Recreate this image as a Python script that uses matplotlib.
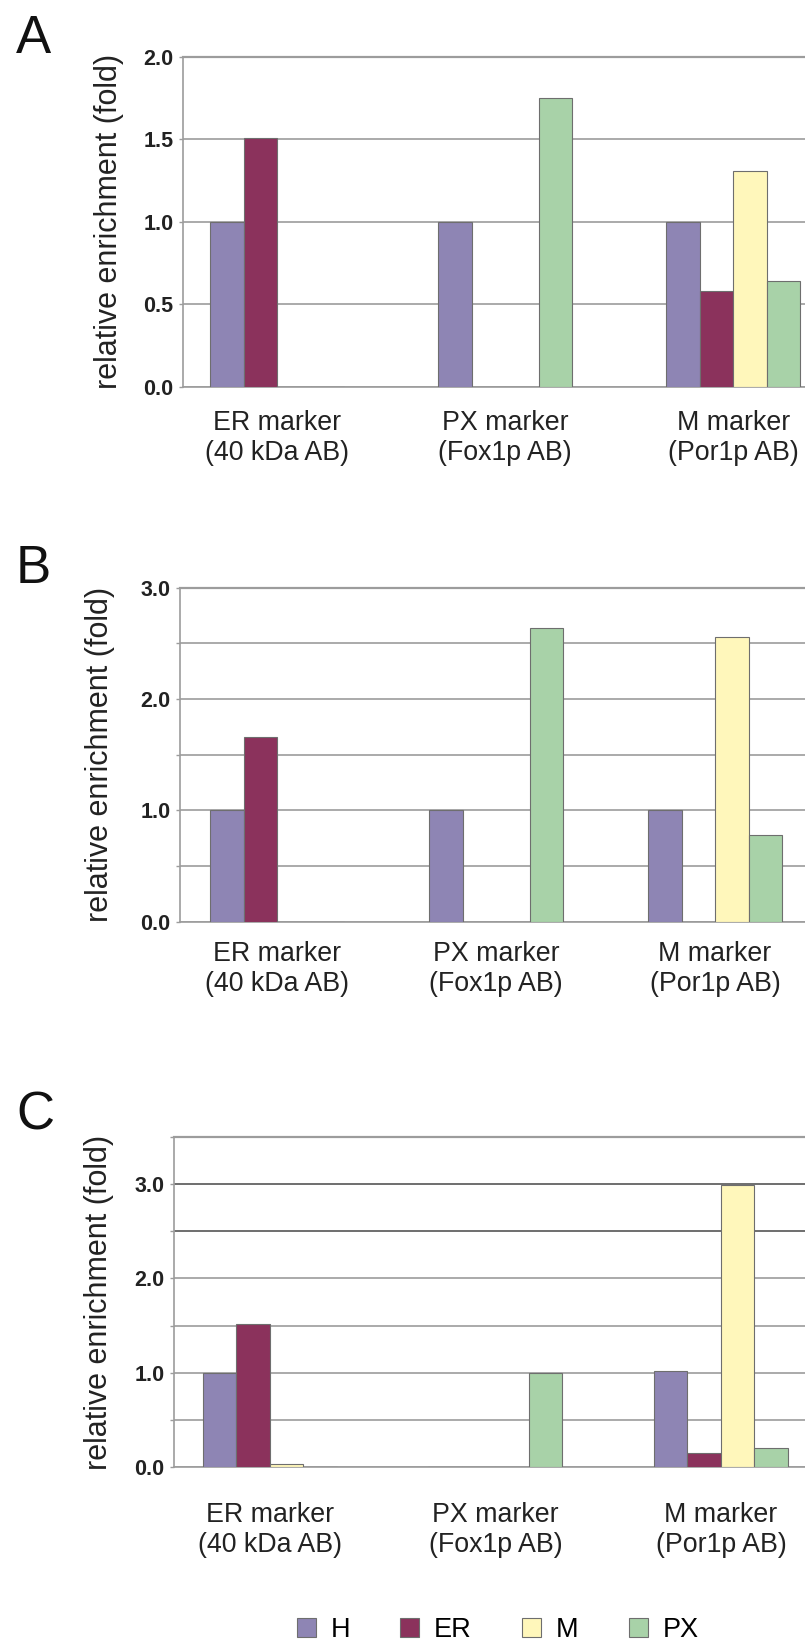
import numpy as np
import matplotlib
matplotlib.use("Agg")
import matplotlib.pyplot as plt
from matplotlib.patches import Patch

plt.rcParams['font.family'] = ['Liberation Sans', 'DejaVu Sans']

# ---------------- data ----------------
categories = ["ER marker\n(40 kDa AB)", "PX marker\n(Fox1p AB)", "M marker\n(Por1p AB)"]
series = ["H", "ER", "M", "PX"]
colors = ["#8E85B4", "#8B325C", "#FFF7BB", "#A8D2A8"]

a_H = [1.0, 1.0, 1.0]
a_ER = [1.51, 0.0, 0.58]
a_M = [0.0, 0.0, 1.31]
a_PX = [0.0, 1.75, 0.64]

b_H = [1.0, 1.0, 1.0]
b_ER = [1.66, 0.0, 0.0]
b_M = [0.0, 0.0, 2.56]
b_PX = [0.0, 2.64, 0.78]

c_H = [1.0, 0.0, 1.02]
c_ER = [1.52, 0.0, 0.15]
c_M = [0.04, 0.0, 2.99]
c_PX = [0.0, 1.0, 0.20]

a_yticks = [0.0, 0.5, 1.0, 1.5, 2.0]
a_ylabels = ["0.0", "0.5", "1.0", "1.5", "2.0"]
b_yticks = [0.0, 0.5, 1.0, 1.5, 2.0, 2.5, 3.0]
b_ylabels = ["0.0", "", "1.0", "", "2.0", "", "3.0"]
c_yticks = [0.0, 0.5, 1.0, 1.5, 2.0, 2.5, 3.0, 3.5]
c_ylabels = ["0.0", "", "1.0", "", "2.0", "", "3.0", ""]

panel_letters = ["A", "B", "C"]
ylabel_text = "relative enrichment (fold)"

# ---------------- layout (pixels) ----------------
W, H = 805, 1643
fig = plt.figure(figsize=(W / 100, H / 100), dpi=100)

panels = [
    dict(vals=[a_H, a_ER, a_M, a_PX], ticks=a_yticks, labels=a_ylabels, ymax=2.0,
         left=183, top=56.7, bottom=387, c0=277.3, s=228, xpad=23, ylx=109, lety=53,
         dark=[]),
    dict(vals=[b_H, b_ER, b_M, b_PX], ticks=b_yticks, labels=b_ylabels, ymax=3.0,
         left=180, top=587.7, bottom=921.7, c0=277, s=219, xpad=19, ylx=100, lety=583,
         dark=[]),
    dict(vals=[c_H, c_ER, c_M, c_PX], ticks=c_yticks, labels=c_ylabels, ymax=3.5,
         left=174, top=1136.7, bottom=1467.3, c0=269.9, s=225.5, xpad=35, ylx=99, lety=1129,
         dark=[2.5, 3.0]),
]

bar_px = 33.5
grid_col = "#9c9c9c"

for p, letter in zip(panels, panel_letters):
    ax = fig.add_axes([p['left'] / W, 1 - p['bottom'] / H,
                       (W - p['left']) / W, (p['bottom'] - p['top']) / H])
    x = np.arange(len(categories))
    w = bar_px / p['s']
    for i, (vals, col) in enumerate(zip(p['vals'], colors)):
        ax.bar(x + (i - 1.5) * w, vals, width=w, color=col,
               edgecolor="#6e6e6e", linewidth=0.8, zorder=3)
    ax.set_xlim((p['left'] - p['c0']) / p['s'], (W - p['c0']) / p['s'])
    ax.set_ylim(0, p['ymax'])
    ax.set_yticks(p['ticks'])
    ax.set_yticklabels(p['labels'], fontsize=15.5, fontweight='bold', color='#222222')
    ax.set_xticks(x)
    ax.set_xticklabels(categories, fontsize=19.3, color='#222222')
    ax.tick_params(axis='x', length=0, pad=p['xpad'] * 0.72)
    ax.tick_params(axis='y', length=3, width=1, color=grid_col, pad=4)
    ax.yaxis.grid(True, color=grid_col, linewidth=1.2, zorder=0)
    for tick_val, gl in zip(p['ticks'], ax.get_ygridlines()):
        if tick_val in p['dark']:
            gl.set_color('#555555')
    ax.set_axisbelow(True)
    for side in ['top', 'right']:
        ax.spines[side].set_visible(False)
    ax.spines['left'].set_color(grid_col)
    ax.spines['left'].set_linewidth(1.2)
    ax.spines['bottom'].set_color(grid_col)
    ax.spines['bottom'].set_linewidth(1.2)
    ax.axhline(p['ymax'], color=grid_col, linewidth=1.6, clip_on=False, zorder=1)

    fig.text(p['ylx'] / W, 1 - (p['top'] + p['bottom']) / 2 / H, ylabel_text,
             rotation=90, ha='center', va='center', fontsize=22, color='#222222')
    fig.text(16 / W, 1 - p['lety'] / H, letter, ha='left', va='baseline',
             fontsize=38, color='#111111')

handles = [Patch(facecolor=c, edgecolor="#6e6e6e", linewidth=0.8) for c in colors]
fig.legend(handles, series, ncol=4, loc='center left',
           bbox_to_anchor=(296.7 / W, 1 - 1630 / H), frameon=False,
           fontsize=19.5, handlelength=0.7, handleheight=0.7, handletextpad=0.55,
           columnspacing=1.85, borderpad=0, borderaxespad=0)

fig.savefig("out.png", dpi=100)
